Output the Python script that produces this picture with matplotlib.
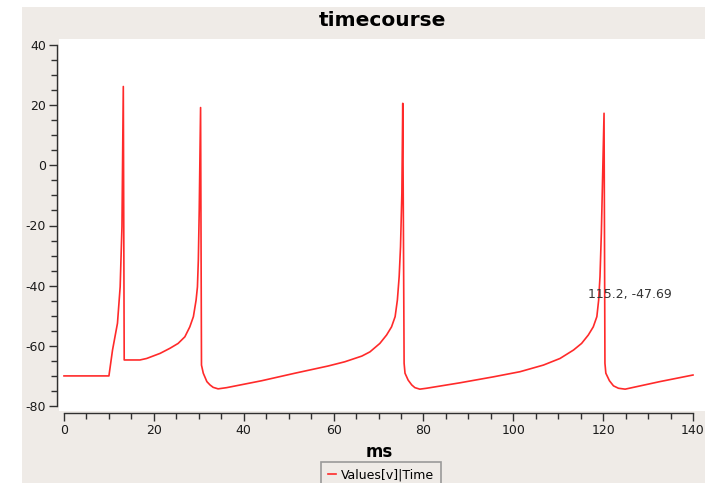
import matplotlib
matplotlib.use("Agg")
import matplotlib.pyplot as plt
from matplotlib.patches import Rectangle
from matplotlib.ticker import MultipleLocator

plt.rcParams["font.family"] = "DejaVu Sans"
plt.rcParams["axes.unicode_minus"] = False

# membrane potential trace (ms, mV)
time_ms = [0, 10.0, 10.8, 11.9, 12.5, 12.9, 13.2, 13.4, 16.9, 18.4, 21.4,
           23.6, 25.4, 26.9, 28.0, 28.8, 29.4, 29.7, 29.9, 30.1, 30.4,
           30.6, 31.0, 31.8, 32.5, 33.2, 34.3, 36.2, 44.0, 51.4, 58.8, 62.5,
           66.3, 68.1, 70.3, 71.8, 72.9, 73.7, 74.2, 74.6, 74.9, 75.2, 75.4,
           75.7, 75.9, 76.6, 77.4, 78.1, 79.2, 80.7, 88.1, 95.6, 101.5,
           106.7, 110.4, 113.4, 115.2, 116.7, 117.8, 118.6, 119.0, 119.3,
           119.6, 120.2, 120.4, 120.6, 121.4, 122.3, 123.4, 124.9, 132.6,
           140.0]
voltage = [-70, -70, -61.4, -52.5, -40.4, -20.4, 26.2, -64.7, -64.7, -64.2,
           -62.5, -60.8, -59.2, -57.0, -53.7, -50.3, -44.8, -40.4, -31.5,
           -14.9, 19.2, -66.4, -69.1, -71.9, -73.0, -73.8, -74.3, -73.9,
           -71.6, -69.1, -66.7, -65.3, -63.4, -62.0, -59.2, -56.4, -53.7,
           -50.3, -44.8, -37.0, -27.1, -9.3, 20.6, -65.8, -69.1, -71.4,
           -73.0, -73.9, -74.4, -74.1, -72.3, -70.3, -68.6, -66.4, -64.2,
           -61.4, -59.2, -56.4, -53.7, -50.3, -44.8, -37.0, -22.6, 17.3,
           -65.8, -69.1, -71.6, -73.3, -74.1, -74.4, -71.9, -69.7]

series_label = "Values[v]|Time"
title = "timecourse"
x_label = "ms"
cursor_text = "115.2, -47.69"

W, H = 706, 483
fig = plt.figure(figsize=(W / 100, H / 100), dpi=100)
fig.patch.set_facecolor("white")
fig.patches.append(Rectangle((22 / W, 0), (705 - 22) / W, 1 - 7 / H,
                             transform=fig.transFigure, facecolor="#efebe7",
                             edgecolor="none", zorder=-10))

ax = fig.add_axes([59 / W, 1 - 411 / H, (705 - 59) / W, (411 - 39) / H])
ax.set_facecolor("white")
ax.plot(time_ms, voltage, color="#ff2a2a", lw=1.2)

px_x = (693 - 64) / 140
ax.set_xlim((59 - 64) / px_x, (705 - 64) / px_x)
px_y = (406 - 45) / 120
ax.set_ylim(-80 - 5 / px_y, 40 + 6 / px_y)

for side in ("top", "right"):
    ax.spines[side].set_visible(False)
ax.spines["left"].set_position(("outward", 1.5))
ax.spines["bottom"].set_position(("outward", 1.5))
ax.spines["left"].set_bounds(-80, 40)
ax.spines["bottom"].set_bounds(0, 140)
for side in ("left", "bottom"):
    ax.spines[side].set_color("#303030")
    ax.spines[side].set_linewidth(1.0)

ax.xaxis.set_major_locator(MultipleLocator(20))
ax.xaxis.set_minor_locator(MultipleLocator(5))
ax.yaxis.set_major_locator(MultipleLocator(20))
ax.yaxis.set_minor_locator(MultipleLocator(5))
ax.tick_params(which="major", length=6, width=1, color="#303030",
               labelsize=9, labelcolor="#1a1a1a", pad=2)
ax.tick_params(which="minor", length=4, width=1, color="#303030")

ax.text(116.6, -42.8, cursor_text, fontsize=9, color="#333333",
        ha="left", va="center")

fig.text(382 / W, 1 - 20 / H, title, fontsize=14.5, fontweight="bold",
         ha="center", va="center", color="black")
fig.text(379 / W, 1 - 452 / H, x_label, fontsize=12, fontweight="bold",
         ha="center", va="center", color="black")

handles = ax.get_lines()
leg = fig.legend(handles, [series_label], loc="upper center",
                 bbox_to_anchor=(381 / W, 1 - 462 / H), fontsize=9,
                 handlelength=0.7, handletextpad=0.4, borderpad=0.5,
                 fancybox=False, framealpha=1, edgecolor="#9a9a9a",
                 facecolor="#efebe7", borderaxespad=0)
leg.get_frame().set_linewidth(1.2)

fig.savefig("out.png", dpi=100)
